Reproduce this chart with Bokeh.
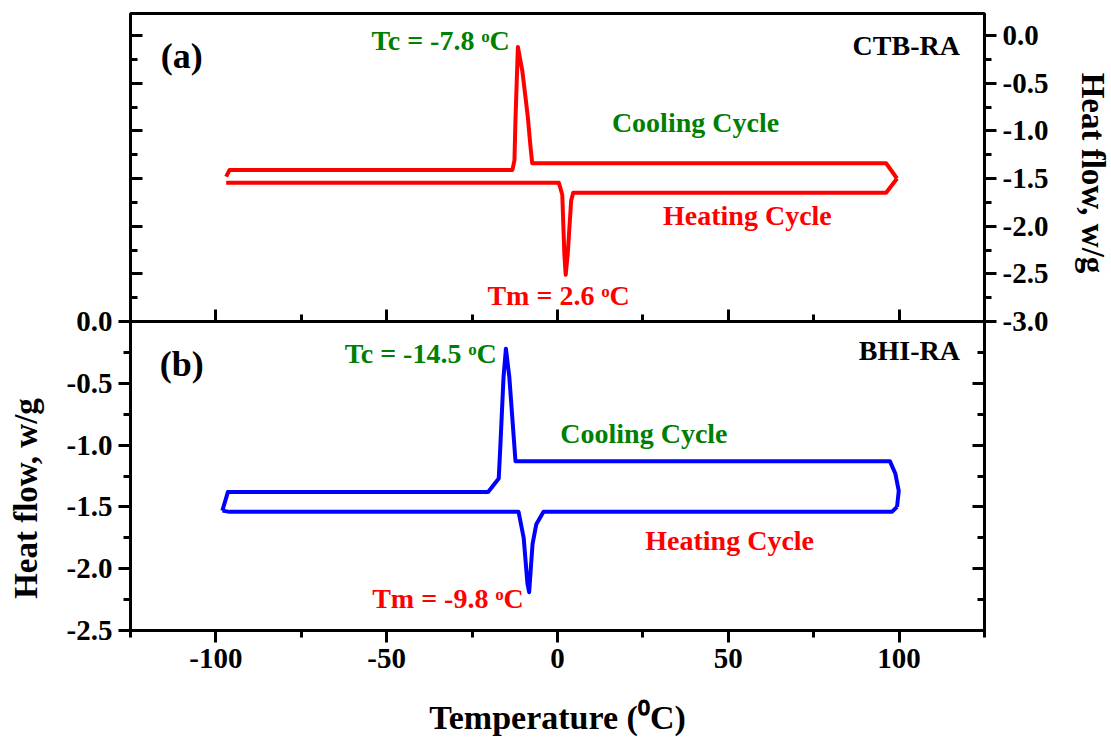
import math
from bokeh.plotting import figure
from bokeh.models import Range1d, LinearAxis, FixedTicker, NumeralTickFormatter, Label
from bokeh.core.properties import value
from bokeh.embed import file_html
from bokeh.resources import INLINE

FONT = "Liberation Serif"

# ---------------- data ----------------
temp_ticks = [-100, -50, 0, 50, 100]
temp_minor = [-125, -75, -25, 25, 75, 125]

top_ticks = [0.0, -0.5, -1.0, -1.5, -2.0, -2.5, -3.0]
top_minor = [-0.25, -0.75, -1.25, -1.75, -2.25, -2.75]
bot_ticks = [0.0, -0.5, -1.0, -1.5, -2.0, -2.5]
bot_minor = [-0.25, -0.75, -1.25, -1.75, -2.25]

# (a) CTB-RA : cooling (from hot end going left) and heating (from cold end going right)
ctb_cool_T = [99.4, 96.2, -6.4, -7.4, -7.9, -8.7, -10.3, -11.6, -12.3, -12.6, -13.2, -96.0, -97.0]
ctb_cool_H = [-1.50, -1.34, -1.34, -1.34, -1.17, -0.85, -0.37, -0.12, -0.88, -1.31, -1.41, -1.41, -1.48]
ctb_heat_T = [-97.0, 0.4, 1.4, 2.0, 2.4, 3.0, 4.0, 4.6, 96.2, 99.4]
ctb_heat_H = [-1.545, -1.545, -1.67, -2.29, -2.51, -2.29, -1.73, -1.65, -1.65, -1.50]

# (b) BHI-RA
bhi_cool_T = [99.4, 99.9, 98.9, 97.3, -12.3, -14.1, -15.1, -15.8, -16.7, -17.2, -20.3, -96.5, -98.1]
bhi_cool_H = [-1.50, -1.37, -1.23, -1.13, -1.13, -0.45, -0.22, -0.45, -0.99, -1.27, -1.38, -1.38, -1.53]
bhi_heat_T = [-98.1, -96.0, -11.4, -9.9, -8.8, -8.3, -7.3, -6.2, -4.1, 97.9, 99.4]
bhi_heat_H = [-1.53, -1.54, -1.54, -1.75, -2.12, -2.19, -1.80, -1.64, -1.54, -1.54, -1.50]

x_title = "Temperature (\u2070C)"
y_title = "Heat flow, w/g"

# ---------------- figure ----------------
p = figure(frame_width=854, frame_height=617,
           x_range=Range1d(-125, 125), y_range=Range1d(-2.5, 2.492),
           x_axis_location=None, y_axis_location=None,
           toolbar_location=None, output_backend="svg",
           min_border_left=130, min_border_right=127,
           min_border_top=13, min_border_bottom=111,
           background_fill_color="white", border_fill_color="white",
           outline_line_color="black", outline_line_width=3)
p.extra_y_ranges = {"top": Range1d(-6.241, 0.231)}
p.grid.visible = False


def style_axis(ax, labels=True, inward=False):
    ax.axis_line_color = None
    ax.major_tick_line_color = "black"
    ax.minor_tick_line_color = "black"
    ax.major_tick_line_width = 3
    ax.minor_tick_line_width = 3
    if inward:
        ax.major_tick_in, ax.major_tick_out = 12, 0
        ax.minor_tick_in, ax.minor_tick_out = 7, 0
    else:
        ax.major_tick_in, ax.major_tick_out = 0, 12
        ax.minor_tick_in, ax.minor_tick_out = 0, 7
    if labels:
        ax.major_label_text_font = FONT
        ax.major_label_text_font_style = "bold"
        ax.major_label_text_font_size = "29px"
        ax.major_label_text_color = "black"
        ax.major_label_standoff = 6
        ax.axis_label_text_font = FONT
        ax.axis_label_text_font_style = "bold"
        ax.axis_label_text_font_size = "34px"
        ax.axis_label_text_color = "black"
    else:
        ax.major_label_text_color = None
    return ax


# left: inward mirror ticks for panel (a), then labelled axis for panel (b)
l_top = style_axis(LinearAxis(y_range_name="top",
                              ticker=FixedTicker(ticks=top_ticks, minor_ticks=top_minor)),
                   labels=False, inward=True)
p.add_layout(l_top, "left")
l_bot = style_axis(LinearAxis(ticker=FixedTicker(ticks=bot_ticks, minor_ticks=bot_minor),
                              formatter=NumeralTickFormatter(format="0.0")))
p.add_layout(l_bot, "left")

# right: inward mirror ticks for panel (b), then labelled axis for panel (a)
r_bot = style_axis(LinearAxis(ticker=FixedTicker(ticks=bot_ticks, minor_ticks=bot_minor)),
                   labels=False, inward=True)
p.add_layout(r_bot, "right")
r_top = style_axis(LinearAxis(y_range_name="top",
                              ticker=FixedTicker(ticks=top_ticks, minor_ticks=top_minor),
                              formatter=NumeralTickFormatter(format="0.0")))
p.add_layout(r_top, "right")

# bottom temperature axis
xb = style_axis(LinearAxis(ticker=FixedTicker(ticks=temp_ticks, minor_ticks=temp_minor),
                           formatter=NumeralTickFormatter(format="0"),
                           axis_label=x_title))
xb.axis_label_standoff = 28
p.add_layout(xb, "below")

# divider between the two panels, ticks pointing up into panel (a)
xd = style_axis(LinearAxis(ticker=FixedTicker(ticks=temp_ticks, minor_ticks=temp_minor),
                           fixed_location=0.0), labels=False, inward=True)
xd.axis_line_color = "black"
xd.axis_line_width = 3
p.add_layout(xd, "below")

# y-axis titles, each centred on its own panel as in the reference (side panels: not clipped)
p.add_layout(Label(x=-155.6, y=-1.432, text=y_title, angle=math.pi / 2,
                   text_align="center", text_baseline="middle", text_font=FONT,
                   text_font_style="bold", text_font_size="33px", text_color="black"), "left")
p.add_layout(Label(x=156.7, y=-1.442, y_range_name="top", text=y_title, angle=-math.pi / 2,
                   text_align="center", text_baseline="middle", text_font=FONT,
                   text_font_style="bold", text_font_size="33px", text_color="black"), "right")

# ---------------- curves ----------------
p.line(ctb_cool_T, ctb_cool_H, y_range_name="top", line_color="#ff0000", line_width=4, line_join="round")
p.line(ctb_heat_T, ctb_heat_H, y_range_name="top", line_color="#ff0000", line_width=4, line_join="round")
p.line(bhi_cool_T, bhi_cool_H, line_color="#0000ff", line_width=4, line_join="round")
p.line(bhi_heat_T, bhi_heat_H, line_color="#0000ff", line_width=4, line_join="round")

# ---------------- annotations ----------------
GREEN, RED, BLACK = "#008000", "#ff0000", "black"


def label(text, x, y, color, align="center", size="28px", rng=None):
    kw = {"y_range_name": rng} if rng else {}
    p.text(x=[x], y=[y], text=[text], text_color=color, text_align=align,
           text_baseline="middle", text_font=value(FONT), text_font_style="bold",
           text_font_size=size, **kw)


label("(a)", -110, -0.21, BLACK, size="36px", rng="top")
label("Tc = -7.8 \u1d52C", -14.0, -0.05, GREEN, align="right", rng="top")
label("CTB-RA", 117.8, -0.105, BLACK, align="right", rng="top")
label("Cooling Cycle", 40.4, -0.913, GREEN, rng="top")
label("Heating Cycle", 55.6, -1.89, RED, rng="top")
label("Tm = 2.6 \u1d52C", 0.3, -2.73, RED, rng="top")

label("(b)", -110, -0.34, BLACK, size="36px")
label("Tc = -14.5 \u1d52C", -17.8, -0.26, GREEN, align="right")
label("BHI-RA", 117.8, -0.235, BLACK, align="right")
label("Cooling Cycle", 25.3, -0.906, GREEN)
label("Heating Cycle", 50.4, -1.77, RED)
label("Tm = -9.8 \u1d52C", -9.9, -2.24, RED, align="right")

open("out.html", "w").write(file_html(p, INLINE))
